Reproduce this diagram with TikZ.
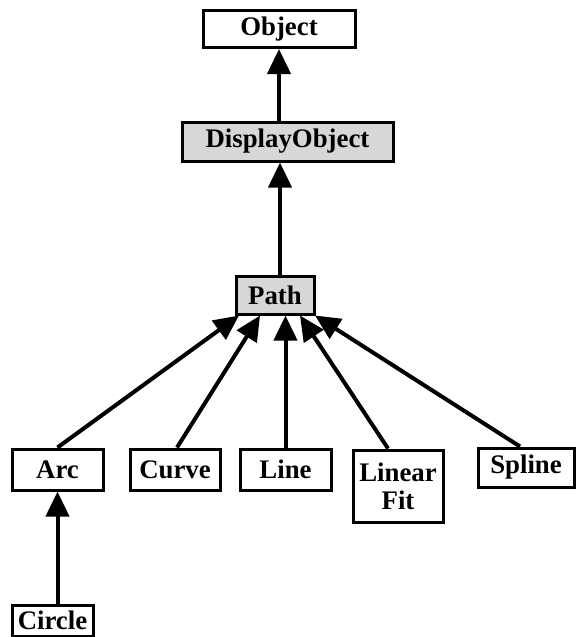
\documentclass[tikz,border=0pt]{standalone}
\usepackage{fontspec}
\setmainfont{Liberation Serif}
\usetikzlibrary{arrows.meta,calc}
\definecolor{stipple}{RGB}{215,215,215}
\tikzset{
  class-box/.style={
    draw=black,
    line width=1.5pt,
    fill=white,
    inner sep=0pt,
    align=center,
    font=\fontsize{13.4pt}{14pt}\selectfont\bfseries
  },
  class-shaded/.style={
    class-box,
    fill=stipple
  },
  inherit/.style={
    line width=2pt,
    -{Triangle[length=12.5pt,width=11.5pt]}
  }
}

\begin{document}
\begin{tikzpicture}[x=0.5pt,y=-0.5pt]
  \useasboundingbox (0,0) rectangle (575,637);
  % classes
  \node[class-box, minimum width=76pt, minimum height=18.5pt] (object) at (279,29) {Object};
  \node[class-shaded, minimum width=105.5pt, minimum height=19.5pt] (display) at (287.5,141.5) {DisplayObject};
  \node[class-shaded, minimum width=39pt, minimum height=19pt] (path) at (275,295) {Path};
  \node[class-box, minimum width=45.5pt, minimum height=20.5pt] (arc) at (57.5,469.5) {Arc};
  \node[class-box, minimum width=45pt, minimum height=20.5pt] (curve) at (175,469.5) {Curve};
  \node[class-box, minimum width=45.5pt, minimum height=20.5pt] (line) at (285.5,469.5) {Line};
  \node[class-box, minimum width=45pt, minimum height=36pt] (linfit) at (398,486) {Linear\\Fit};
  \node[class-box, minimum width=48pt, minimum height=19.5pt] (spline) at (526,467.5) {Spline};
  \node[class-box, minimum width=40.5pt, minimum height=15.5pt] (circle) at (52.5,620.5) {Circle};
  % inheritance
  \draw[inherit] (object.south |- display.north) -- (object.south);
  \draw[inherit] ([xshift=2.5pt]path.north) -- ([xshift=2.5pt]path.north |- display.south);
  \draw[inherit] (arc.south |- circle.north) -- (arc.south);
  \draw[inherit] (line.north) -- (line.north |- path.south);
  \foreach \from/\fx/\tx in {arc/0pt/-18pt,curve/1pt/-7.5pt,linfit/-5pt/12.5pt,spline/-3pt/20pt} {
    \draw[inherit] ([xshift=\fx]\from.north) -- ([xshift=\tx]path.south);
  }
\end{tikzpicture}
\end{document}
